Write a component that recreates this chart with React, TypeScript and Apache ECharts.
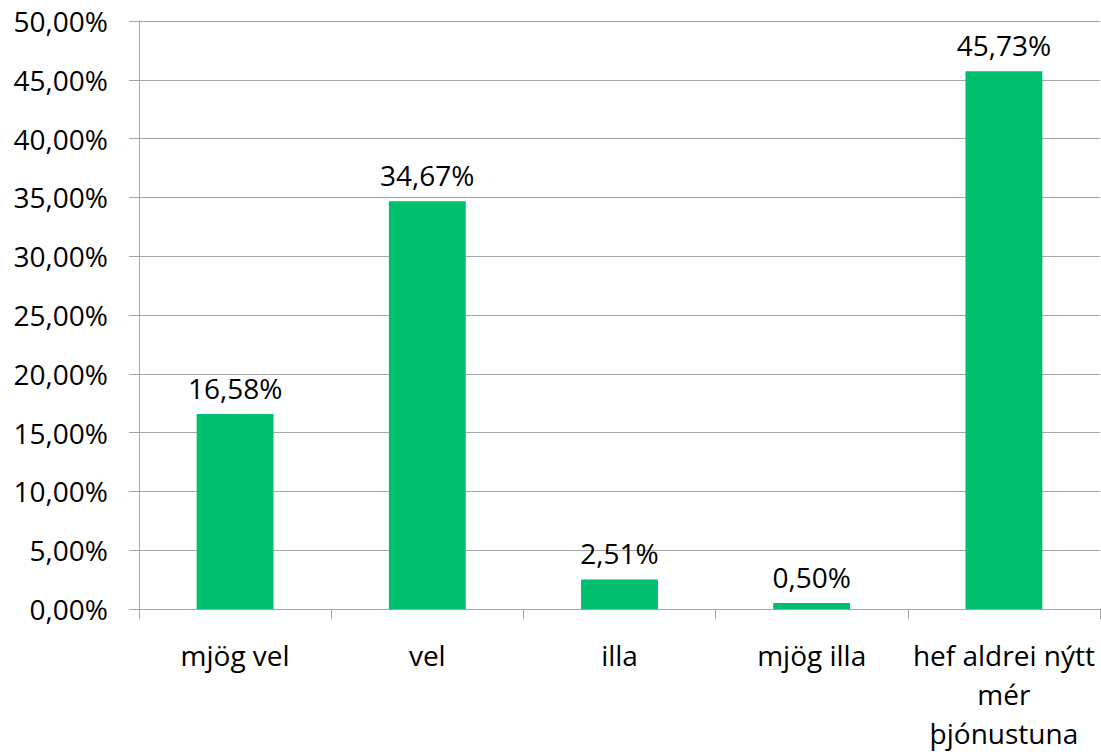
import React, { useEffect, useRef } from "react";
import * as echarts from "echarts";

const categories = ["mjög vel", "vel", "illa", "mjög illa", "hef aldrei nýtt mér þjónustuna"];
const values = [16.58, 34.67, 2.51, 0.5, 45.73];
const yMin = 0;
const yMax = 50;
const yInterval = 5;

const FONT = "'Open Sans', sans-serif";
const fmt = (v: number) => v.toFixed(2).replace(".", ",") + "%";

export default function App() {
  const ref = useRef<HTMLDivElement>(null);
  useEffect(() => {
    if (!ref.current) return;
    const chart = echarts.init(ref.current, undefined, { renderer: "svg" });
    chart.setOption({
      animation: false,
      backgroundColor: "#ffffff",
      grid: { left: 139, right: 1, top: 21, bottom: 136, containLabel: false },
      xAxis: {
        type: "category",
        data: categories,
        axisLine: { show: true, lineStyle: { color: "#A6A6A6", width: 1 } },
        axisTick: { show: true, length: 10, alignWithLabel: false, lineStyle: { color: "#A6A6A6" } },
        axisLabel: {
          interval: 0,
          margin: 26,
          color: "#000000",
          fontFamily: FONT,
          fontSize: 28,
          lineHeight: 39,
          formatter: (v: string) => (v === categories[4] ? "hef aldrei nýtt\nmér\nþjónustuna" : v),
        },
      },
      yAxis: {
        type: "value",
        min: yMin,
        max: yMax,
        interval: yInterval,
        axisLine: { show: true, lineStyle: { color: "#A6A6A6", width: 1 } },
        axisTick: { show: true, length: 10, lineStyle: { color: "#A6A6A6" } },
        splitLine: { show: true, lineStyle: { color: "#A6A6A6", width: 1 } },
        axisLabel: {
          margin: 31,
          color: "#000000",
          fontFamily: FONT,
          fontSize: 28,
          formatter: (v: number) => fmt(v),
        },
      },
      series: [
        {
          type: "bar",
          data: values,
          barWidth: "40%",
          itemStyle: { color: "#00BF6F" },
          label: {
            show: true,
            position: "top",
            distance: 12,
            color: "#000000",
            fontFamily: FONT,
            fontSize: 28,
            formatter: (p: any) => fmt(p.value),
          },
        },
      ],
    });
    return () => chart.dispose();
  }, []);
  return (
    <div
      ref={ref}
      style={{ position: "absolute", left: 0, top: 0, width: 1101, height: 752, overflow: "hidden" }}
    />
  );
}
